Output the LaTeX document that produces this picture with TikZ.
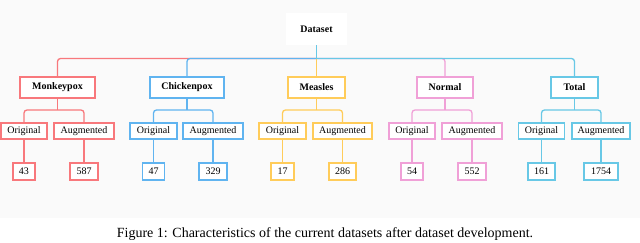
\documentclass[tikz,border=0pt]{standalone}
\usepackage{fontspec}
\setmainfont{Liberation Serif}
\definecolor{cred}{RGB}{248,120,124}
\definecolor{cblue}{RGB}{96,180,240}
\definecolor{cyel}{RGB}{255,204,90}
\definecolor{cpink}{RGB}{240,160,215}
\definecolor{ccyan}{RGB}{104,200,230}
\definecolor{bg}{RGB}{250,250,250}
\begin{document}
\begin{tikzpicture}[x=1pt,y=-1pt,
  box/.style={draw=#1,line width=1.3pt,fill=white,rectangle,inner sep=0pt,font=\fontsize{10}{12}\selectfont},
  lone/.style={box=#1,minimum height=21pt,font=\fontsize{10}{12}\selectfont\bfseries},
  ltwo/.style={box=#1,minimum height=16pt},
  lthree/.style={box=#1,minimum height=17pt},
  wire/.style={draw=#1,line width=1.3pt,rounded corners=3pt}]
\useasboundingbox (0,0) rectangle (640,242);
\fill[bg] (0,0) rectangle (640,218);
% root
\node[fill=white,minimum width=61pt,minimum height=32pt,inner sep=0pt,font=\fontsize{10}{12}\selectfont\bfseries] (D) at (316.5,29) {Dataset};
\coordinate (b1) at (0,58.5);
\coordinate (b2) at (0,110);
% level 1
\node[lone=cred,minimum width=75pt] (M) at (57.5,87.5) {Monkeypox};
\node[lone=cblue,minimum width=74pt] (C) at (187,87.5) {Chickenpox};
\node[lone=cyel,minimum width=57pt] (E) at (316.5,87.5) {Measles};
\node[lone=cpink,minimum width=56pt] (N) at (445,87.5) {Normal};
\node[lone=ccyan,minimum width=47pt] (T) at (574.5,87.5) {Total};
% level 2
\node[ltwo=cred,minimum width=46pt] (MO) at (24,131) {Original};
\node[ltwo=cred,minimum width=60pt] (MA) at (84,131) {Augmented};
\node[ltwo=cblue,minimum width=47pt] (CO) at (153.5,131) {Original};
\node[ltwo=cblue,minimum width=60pt] (CA) at (213,131) {Augmented};
\node[ltwo=cyel,minimum width=47pt] (EO) at (282.5,131) {Original};
\node[ltwo=cyel,minimum width=59pt] (EA) at (342.5,131) {Augmented};
\node[ltwo=cpink,minimum width=46pt] (NO) at (412,131) {Original};
\node[ltwo=cpink,minimum width=60pt] (NA) at (472,131) {Augmented};
\node[ltwo=ccyan,minimum width=46pt] (TO) at (541.5,131) {Original};
\node[ltwo=ccyan,minimum width=58pt] (TA) at (601,131) {Augmented};
% level 3
\node[lthree=cred,minimum width=22pt] (M1) at (24,171.5) {43};
\node[lthree=cred,minimum width=28pt] (M2) at (84,171.5) {587};
\node[lthree=cblue,minimum width=22pt] (C1) at (153.5,171.5) {47};
\node[lthree=cblue,minimum width=28pt] (C2) at (213,171.5) {329};
\node[lthree=cyel,minimum width=23pt] (E1) at (282.5,171.5) {17};
\node[lthree=cyel,minimum width=27pt] (E2) at (342.5,171.5) {286};
\node[lthree=cpink,minimum width=22pt] (N1) at (412,171.5) {54};
\node[lthree=cpink,minimum width=28pt] (N2) at (472,171.5) {552};
\node[lthree=ccyan,minimum width=27pt] (T1) at (541.5,171.5) {161};
\node[lthree=ccyan,minimum width=34pt] (T2) at (601,171.5) {1754};
% top connectors
\draw[wire=cred] (D.south|-b1) -- (M.north|-b1) -- (M.north);
\draw[wire=cblue] (D.south|-b1) -- (C.north|-b1) -- (C.north);
\draw[wire=cpink] (D.south|-b1) -- (N.north|-b1) -- (N.north);
\draw[wire=ccyan] (D.south|-b1) -- (T.north|-b1) -- (T.north);
\draw[wire=cyel] (D.south|-b1) -- (E.north);
\draw[wire=ccyan] (D.south) -- (D.south|-b1);
% level 2 connectors
\foreach \p/\a/\b/\c in {M/MO/MA/cred,C/CO/CA/cblue,E/EO/EA/cyel,N/NO/NA/cpink,T/TO/TA/ccyan}{
  \draw[wire=\c] (\p.south) -- (\p.south|-b2);
  \draw[wire=\c] (\a.north) -- (\a.north|-b2) -- (\b.north|-b2) -- (\b.north);
}
% level 3 connectors
\foreach \a/\b/\c in {MO/M1/cred,MA/M2/cred,CO/C1/cblue,CA/C2/cblue,EO/E1/cyel,EA/E2/cyel,NO/N1/cpink,NA/N2/cpink,TO/T1/ccyan,TA/T2/ccyan}{
  \draw[wire=\c] (\a.south) -- (\b.north);
}
\node[font=\fontsize{14}{16}\selectfont,anchor=base] (cap) at (325,237.5) {Figure 1: Characteristics of the current datasets after dataset development.};
\end{tikzpicture}
\end{document}
